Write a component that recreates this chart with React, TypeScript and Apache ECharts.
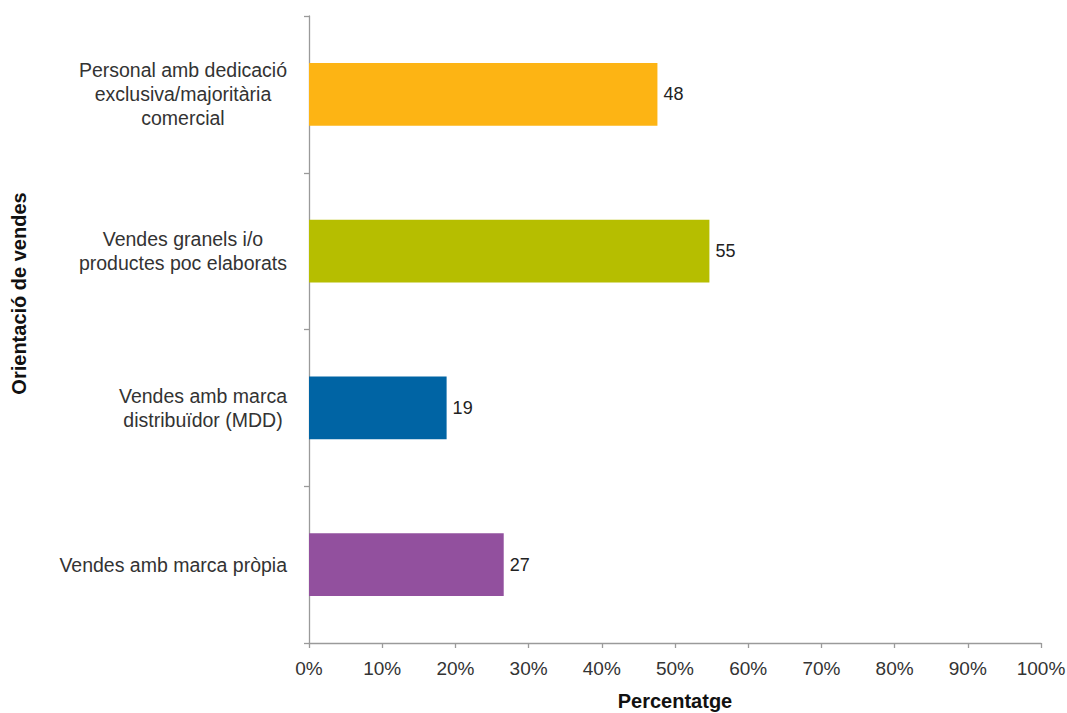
import React, { useEffect, useRef } from "react";
import * as echarts from "echarts";

const categories = [
  "Personal amb dedicació\nexclusiva/majoritària\ncomercial",
  "Vendes granels i/o\nproductes poc elaborats",
  "Vendes amb marca\ndistribuïdor (MDD)",
  "Vendes amb marca pròpia",
];
const values = [47.6, 54.7, 18.8, 26.6];
const colors = ["#FDB414", "#B6BE00", "#0064A4", "#92509E"];
const xTicks = [0, 10, 20, 30, 40, 50, 60, 70, 80, 90, 100];

const FONT = "'Liberation Sans', Arial, Helvetica, sans-serif";

export default function App() {
  const ref = useRef<HTMLDivElement>(null);
  useEffect(() => {
    if (!ref.current) return;
    const chart = echarts.init(ref.current, undefined, { renderer: "svg" });
    chart.setOption({
      animation: false,
      backgroundColor: "#ffffff",
      textStyle: { fontFamily: FONT },
      grid: {
        left: 309,
        right: 26,
        top: 16,
        bottom: 70,
        containLabel: false,
        outerBoundsMode: "none",
      },
      xAxis: {
        type: "value",
        min: xTicks[0],
        max: xTicks[xTicks.length - 1],
        interval: 10,
        name: "Percentatge",
        nameLocation: "middle",
        nameGap: 48,
        nameTextStyle: { fontFamily: FONT, fontSize: 20, fontWeight: "bold", color: "#111" },
        axisLine: { show: true, lineStyle: { color: "#9a9a9a", width: 1.3 } },
        axisTick: { show: true, length: 5, lineStyle: { color: "#9a9a9a", width: 1.3 } },
        axisLabel: {
          margin: 16,
          fontFamily: FONT,
          fontSize: 19,
          color: "#333",
          formatter: (v: number) => `${v}%`,
        },
        splitLine: { show: false },
      },
      yAxis: {
        type: "category",
        inverse: true,
        data: categories,
        name: "Orientació de vendes",
        nameLocation: "middle",
        nameGap: 280,
        nameTextStyle: {
          fontFamily: FONT,
          fontSize: 20,
          fontWeight: "bold",
          color: "#111",
          padding: [0, 0, 0, 72],
        },
        axisLine: { show: true, lineStyle: { color: "#9a9a9a", width: 1.3 } },
        axisTick: { show: true, length: 5, lineStyle: { color: "#9a9a9a", width: 1.3 } },
        axisLabel: {
          margin: 22,
          align: "right",
          formatter: (v: string) =>
            v
              .split("\n")
              .map((l) => `{c|${l}}`)
              .join("\n"),
          rich: {
            c: {
              align: "center",
              fontFamily: FONT,
              fontSize: 19.5,
              lineHeight: 24,
              color: "#333",
            },
          },
        },
      },
      series: [
        {
          type: "bar",
          data: values.map((v, i) => ({ value: v, itemStyle: { color: colors[i] } })),
          barCategoryGap: "60%",
          label: {
            show: true,
            position: "right",
            distance: 6,
            fontFamily: FONT,
            fontSize: 18,
            color: "#222",
            formatter: (p: any) => `${Math.round(p.value)}`,
          },
        },
      ],
    });
    return () => chart.dispose();
  }, []);
  return <div ref={ref} style={{ width: 1067, height: 713, position: "absolute", left: 0, top: 0 }} />;
}
